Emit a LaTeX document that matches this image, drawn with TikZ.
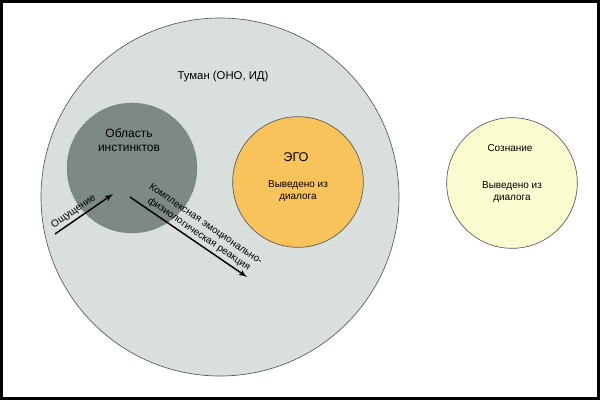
\documentclass[tikz,border=0pt]{standalone}
\usepackage{fontspec}
\setmainfont{Liberation Sans}
\usetikzlibrary{arrows,positioning}

\definecolor{fogfill}{HTML}{D9DFDC}
\definecolor{instfill}{HTML}{7C8985}
\definecolor{egofill}{HTML}{F8C35A}
\definecolor{mindfill}{HTML}{FBFBD0}

\begin{document}
\begin{tikzpicture}[x=0.75pt,y=-0.75pt,
    every node/.style={inner sep=0pt},
    ball/.style={circle,draw=black!65,line width=0.5pt},
    arr/.style={-latex',line width=1.1pt},
    txt/.style={font=\fontsize{7.5}{9}\selectfont,align=center}]

      % page and frame
      \useasboundingbox (0,0) rectangle (600,400);
      \draw[line width=2.25pt] (1.5,1.5) rectangle (598.5,398.5);

      % the fog, with the instincts and the ego inside it,
      % consciousness on its own at the right
      \node[ball,fill=fogfill,minimum size=268.5pt] (fog) at (220,197) {};
      \node[ball,fill=instfill,draw=instfill!80!black,densely dotted,minimum size=97.5pt] (inst) at (132,168) {};
      \node[ball,fill=egofill,minimum size=98pt] (ego) at (298,182) {};
      \node[ball,fill=mindfill,minimum size=98pt] (mind) at (512,183) {};

      \node[font=\fontsize{8.5}{10}\selectfont] (fogname) at (223,77) {Туман (ОНО, ИД)};
      \node[txt,font=\fontsize{9}{11}\selectfont] (instname) at (129,140) {Область\\инстинктов};
      \node[font=\fontsize{9.5}{11}\selectfont] (egoname) at (296,157) {ЭГО};
      \node[txt] (egonote) at (298,191) {Выведено из\\диалога};
      \node[txt] (mindname) at (510,148) {Сознание};
      \node[txt] (mindnote) at (512,192) {Выведено из\\диалога};

      % arrows in and out of the instincts
      \coordinate (feelstart) at (55,234);
      \coordinate (feelend) at (113,194);
      \draw[arr] (feelstart) -- node[txt,sloped,above,inner sep=2pt,pos=.4] (feelname) {Ощущение} (feelend);

      \coordinate (reactstart) at (130,197);
      \coordinate (reactend) at (247,277);
      \draw[arr] (reactstart) -- node[txt,sloped,above,inner sep=2pt,pos=.55] (reactname)
            {Комплексная эмоционально-\\физиологическая реакция} (reactend);

    \end{tikzpicture}
\end{document}
